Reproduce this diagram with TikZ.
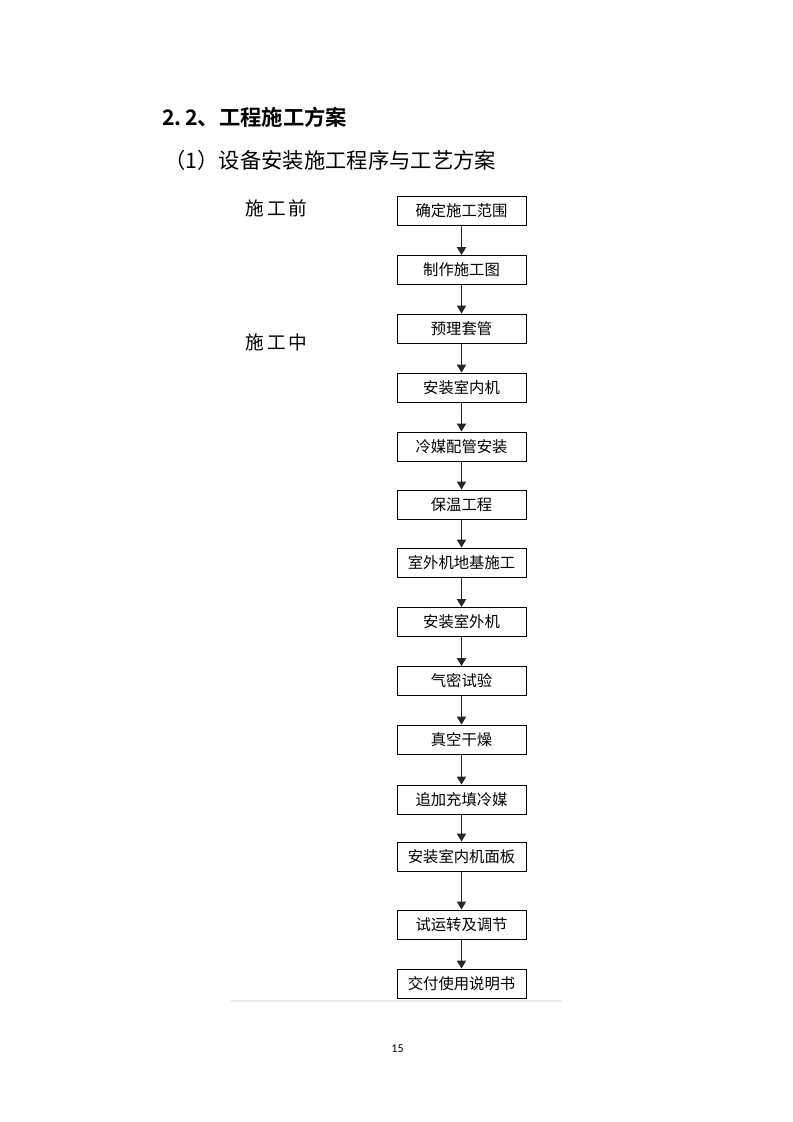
\documentclass[tikz,border=0pt]{standalone}
\usepackage{fontspec}
\newfontfamily\cjk{Noto Sans CJK SC}
\newfontfamily\cjkb{Noto Sans CJK SC Bold}
\setmainfont{Carlito}
\usetikzlibrary{arrows.meta}
\tikzset{
  stepbox/.style={draw=black, line width=0.75pt, minimum width=96.75pt, minimum height=21.75pt, inner sep=0pt, font=\cjk\fontsize{11.5pt}{12pt}\selectfont},
  flow/.style={draw=black!85, line width=0.8pt, -{Triangle[width=7pt,length=6pt]}},
  sidelabel/.style={anchor=west, inner sep=0pt, font=\cjk\fontsize{14pt}{15pt}\selectfont},
}
\begin{document}
\begin{tikzpicture}[x=0.75pt,y=-0.75pt]
\useasboundingbox (0,0) rectangle (793,1122);
\fill[white] (0,0) rectangle (793,1122);
\node[anchor=west, inner sep=0pt, font=\cjkb\fontsize{16pt}{17pt}\selectfont] (title) at (162,117) {2.\,2、工程施工方案};
\node[anchor=west, inner sep=0pt, font=\cjk\fontsize{16pt}{17pt}\selectfont] (sub) at (164,160) {（1）设备安装施工程序与工艺方案};
\node[sidelabel] (pre) at (245,208) {施\,工\,前};
\node[sidelabel] (mid) at (245,342) {施\,工\,中};
\node[stepbox] (b1) at (461.5,211) {确定施工范围};
\node[stepbox] (b2) at (461.5,270) {制作施工图};
\node[stepbox] (b3) at (461.5,328.5) {预理套管};
\node[stepbox] (b4) at (461.5,387.5) {安装室内机};
\node[stepbox] (b5) at (461.5,446.5) {冷媒配管安装};
\node[stepbox] (b6) at (461.5,504.5) {保温工程};
\node[stepbox] (b7) at (461.5,562.5) {室外机地基施工};
\node[stepbox] (b8) at (461.5,622) {安装室外机};
\node[stepbox] (b9) at (461.5,681) {气密试验};
\node[stepbox] (b10) at (461.5,739.5) {真空干燥};
\node[stepbox] (b11) at (461.5,799.5) {追加充填冷媒};
\node[stepbox] (b12) at (461.5,856.5) {安装室内机面板};
\node[stepbox] (b13) at (461.5,924.5) {试运转及调节};
\node[stepbox] (b14) at (461.5,983.5) {交付使用说明书};
\foreach \a/\b in {b1/b2,b2/b3,b3/b4,b4/b5,b5/b6,b6/b7,b7/b8,b8/b9,b9/b10,b10/b11,b11/b12,b12/b13,b13/b14}
  \draw[flow] (\a) -- (\b);
\coordinate (gl) at (231,1001);
\coordinate (gr) at (562,1001);
\draw[color=black!8, line width=1.5pt] (gl) -- (gr);
\node[inner sep=0pt, font=\fontsize{9pt}{10pt}\selectfont] (pg) at (397.5,1049) {15};
\end{tikzpicture}
\end{document}
